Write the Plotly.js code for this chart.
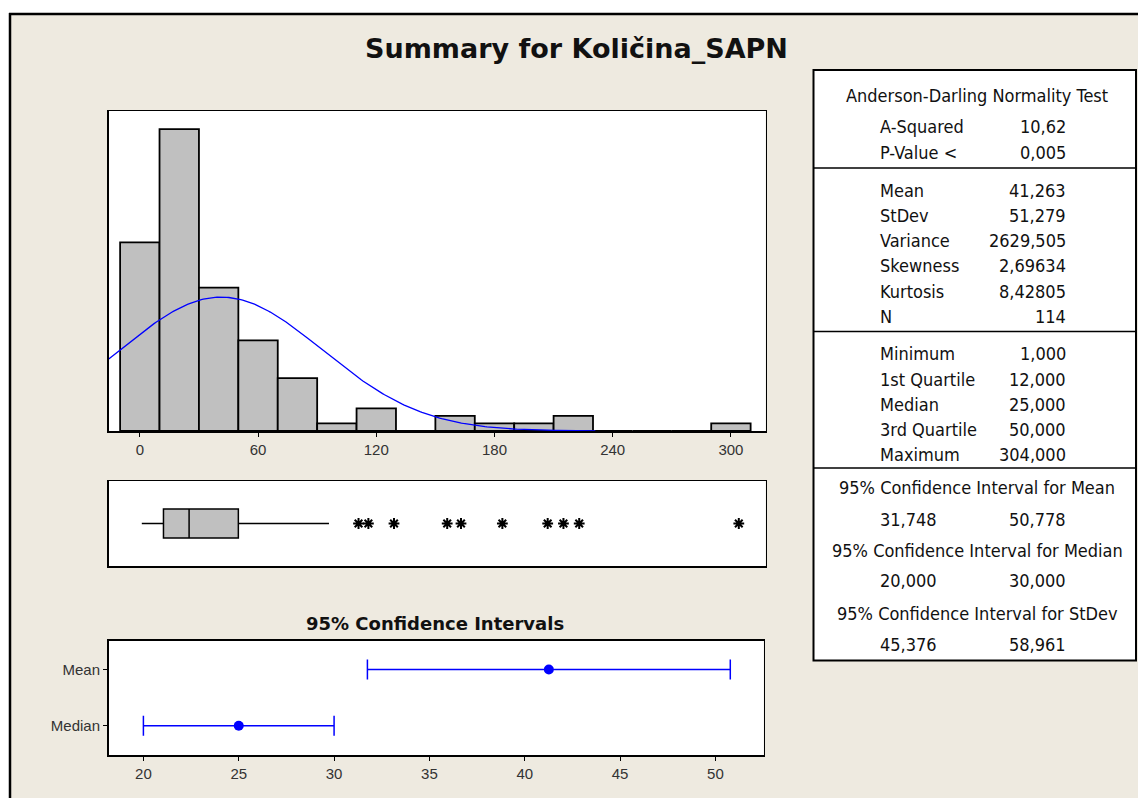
<!DOCTYPE html>
<html><head><meta charset="utf-8">
<script src="https://cdn.plot.ly/plotly-3.0.1.min.js"></script>
<style>html,body{margin:0;padding:0;background:#fff;} #chart{width:1138px;height:798px;}</style>
</head><body><div id="chart"></div>
<script>
// ---- data ----
const binCenters = [0,20,40,60,80,100,120,140,160,180,200,220,240,260,280,300];
const binCounts  = [25,40,19,12,7,1,3,0,2,1,1,2,0,0,0,1];
const binWidth = 20;
const MEAN = 41.263, STDEV = 51.279, N = 114;
const boxQ1 = [12], boxMedian = [25], boxQ3 = [50], boxLow = [1], boxHigh = [96];
const outliers = [111,116,129,156,163,184,207,215,223,304];
const ciLabels = ['Median','Mean'];
const ciCenter = [25, 41.263];
const ciLower  = [20, 31.748];
const ciUpper  = [30, 50.778];
const histTicks = [0,60,120,180,240,300];
const ciTicks = [20,25,30,35,40,45,50];
const testLabels = ['A-Squared','P-Value <'];
const testValues = ['10,62','0,005'];
const momentLabels = ['Mean','StDev','Variance','Skewness','Kurtosis','N'];
const momentValues = ['41,263','51,279','2629,505','2,69634','8,42805','114'];
const quantLabels = ['Minimum','1st Quartile','Median','3rd Quartile','Maximum'];
const quantValues = ['1,000','12,000','25,000','50,000','304,000'];
const ciTitles = ['95% Confidence Interval for Mean','95% Confidence Interval for Median','95% Confidence Interval for StDev'];
const ciLowVals  = ['31,748','20,000','45,376'];
const ciHighVals = ['50,778','30,000','58,961'];

// ---- geometry helpers ----
const W = 1138, H = 798;
const px = x => x / W;
const py = y => 1 - y / H;

// fitted normal curve from the summary statistics
const curveX = [], curveY = [];
for (let x = -15.8; x <= 232; x += 1) {
  const z = (x - MEAN) / STDEV;
  curveX.push(x);
  curveY.push(N * binWidth * Math.exp(-0.5 * z * z) / (STDEV * Math.sqrt(2 * Math.PI)));
}

const tickFont = {family: 'Liberation Sans Narrow, Liberation Sans, sans-serif', size: 15, color: '#333'};
const tableFont = {family: 'DejaVu Sans Condensed, Liberation Sans, sans-serif', size: 18, color: '#111'};

const traces = [
  {type: 'bar', x: binCenters, y: binCounts, width: binWidth, xaxis: 'x', yaxis: 'y',
   marker: {color: '#C0C0C0', line: {color: '#000', width: 1.8}}, hoverinfo: 'skip'},
  {type: 'scatter', mode: 'lines', x: curveX, y: curveY, xaxis: 'x', yaxis: 'y',
   line: {color: '#0000FF', width: 1.3}, hoverinfo: 'skip'},
  {type: 'box', orientation: 'h', y: [0], q1: boxQ1, median: boxMedian, q3: boxQ3,
   lowerfence: boxLow, upperfence: boxHigh, xaxis: 'x2', yaxis: 'y2', width: 0.34,
   whiskerwidth: 0, fillcolor: '#C0C0C0', line: {color: '#000', width: 1.5}, boxpoints: false, hoverinfo: 'skip'},
  {type: 'scatter', mode: 'markers', x: outliers, y: outliers.map(() => 0), xaxis: 'x2', yaxis: 'y2',
   marker: {symbol: 'asterisk-open', size: 9, color: '#000', line: {color: '#000', width: 2}}, hoverinfo: 'skip'},
  {type: 'scatter', mode: 'markers', x: ciCenter, y: ciLabels, xaxis: 'x3', yaxis: 'y3',
   marker: {color: '#0000FF', size: 10},
   error_x: {type: 'data', symmetric: false,
     array: ciUpper.map((u, i) => u - ciCenter[i]),
     arrayminus: ciLower.map((l, i) => ciCenter[i] - l),
     color: '#0000FF', thickness: 1.5, width: 10},
   hoverinfo: 'skip'}
];

const frameAxis = {showline: true, mirror: true, linecolor: '#000', linewidth: 1.5,
  showgrid: false, zeroline: false, fixedrange: true};

const annotations = [];
function ann(text, x, y, xanchor, font) {
  annotations.push({text, x: px(x), y: py(y), xref: 'paper', yref: 'paper',
    xanchor, yanchor: 'middle', showarrow: false, font: font || tableFont});
}
ann('<b>95% Confidence Intervals</b>', 435, 623.5, 'center',
    {family: 'DejaVu Sans, sans-serif', size: 18, color: '#111'});
ann('Anderson-Darling Normality Test', 977, 95, 'center');
const testY = [126.5, 153];
testLabels.forEach((t, i) => { ann(t, 878, testY[i], 'left'); ann(testValues[i], 1068, testY[i], 'right'); });
const momY = [190, 215, 240, 266, 291, 316];
momentLabels.forEach((t, i) => { ann(t, 878, momY[i], 'left'); ann(momentValues[i], 1068, momY[i], 'right'); });
const qY = [353.5, 379, 404.5, 429.5, 454.5];
quantLabels.forEach((t, i) => { ann(t, 878, qY[i], 'left'); ann(quantValues[i], 1068, qY[i], 'right'); });
const ciTitleY = [487, 550.5, 613], ciValY = [519, 580, 644.5];
ciTitles.forEach((t, i) => {
  ann(t, 977, ciTitleY[i], 'center');
  ann(ciLowVals[i], 878, ciValY[i], 'left');
  ann(ciHighVals[i], 1068, ciValY[i], 'right');
});

const shapes = [
  {type: 'rect', xref: 'paper', yref: 'paper', x0: 0, x1: 1, y0: py(13), y1: 1, fillcolor: '#fff', line: {width: 0}},
  {type: 'rect', xref: 'paper', yref: 'paper', x0: 0, x1: px(9), y0: 0, y1: 1, fillcolor: '#fff', line: {width: 0}},
  {type: 'line', xref: 'paper', yref: 'paper', x0: px(9), x1: 1, y0: py(14), y1: py(14), line: {color: '#000', width: 2.5}},
  {type: 'line', xref: 'paper', yref: 'paper', x0: px(10), x1: px(10), y0: 0, y1: py(13), line: {color: '#000', width: 2.5}},
  {type: 'rect', xref: 'paper', yref: 'paper', x0: px(813.5), x1: px(1136), y0: py(660.5), y1: py(70), fillcolor: '#fff', line: {color: '#000', width: 2}},
  {type: 'line', xref: 'paper', yref: 'paper', x0: px(813.5), x1: px(1136), y0: py(168), y1: py(168), line: {color: '#000', width: 1.5}},
  {type: 'line', xref: 'paper', yref: 'paper', x0: px(813.5), x1: px(1136), y0: py(331.5), y1: py(331.5), line: {color: '#000', width: 1.5}},
  {type: 'line', xref: 'paper', yref: 'paper', x0: px(813.5), x1: px(1136), y0: py(468), y1: py(468), line: {color: '#000', width: 1.5}}
];

const layout = {
  width: W, height: H,
  margin: {l: 0, r: 0, t: 0, b: 0, pad: 0},
  paper_bgcolor: '#EEEAE0', plot_bgcolor: '#FFFFFF',
  showlegend: false, bargap: 0,
  title: {text: '<b>Summary for Količina_SAPN</b>', x: 576.5 / W, y: py(48.5), xanchor: 'center', yanchor: 'middle',
    font: {family: 'DejaVu Sans, sans-serif', size: 27, color: '#111'}},
  xaxis: Object.assign({}, frameAxis, {domain: [px(108.7), px(765.6)], range: [-15.8, 317.6], anchor: 'y',
    tickvals: histTicks, ticks: 'outside', ticklen: 4, tickcolor: '#000', tickfont: tickFont}),
  yaxis: Object.assign({}, frameAxis, {domain: [py(431), py(111)], range: [0, 42.4], anchor: 'x',
    showticklabels: false, ticks: ''}),
  xaxis2: Object.assign({}, frameAxis, {domain: [px(108.7), px(765.6)], range: [-15.8, 317.6], anchor: 'y2',
    showticklabels: false, ticks: ''}),
  yaxis2: Object.assign({}, frameAxis, {domain: [py(566), py(481)], range: [-0.5, 0.5], anchor: 'x2',
    showticklabels: false, ticks: ''}),
  xaxis3: Object.assign({}, frameAxis, {domain: [px(108.5), px(763.7)], range: [18.17, 52.53], anchor: 'y3',
    tickvals: ciTicks, ticks: 'outside', ticklen: 4, tickcolor: '#000', tickfont: tickFont}),
  yaxis3: Object.assign({}, frameAxis, {domain: [py(755), py(640.7)], range: [-0.52, 1.51], anchor: 'x3',
    type: 'category', categoryarray: ciLabels, categoryorder: 'array',
    ticks: 'outside', ticklen: 4, tickcolor: '#000', tickfont: tickFont}),
  shapes, annotations
};

Plotly.newPlot('chart', traces, layout, {displayModeBar: false, staticPlot: true});
</script>
</body></html>
